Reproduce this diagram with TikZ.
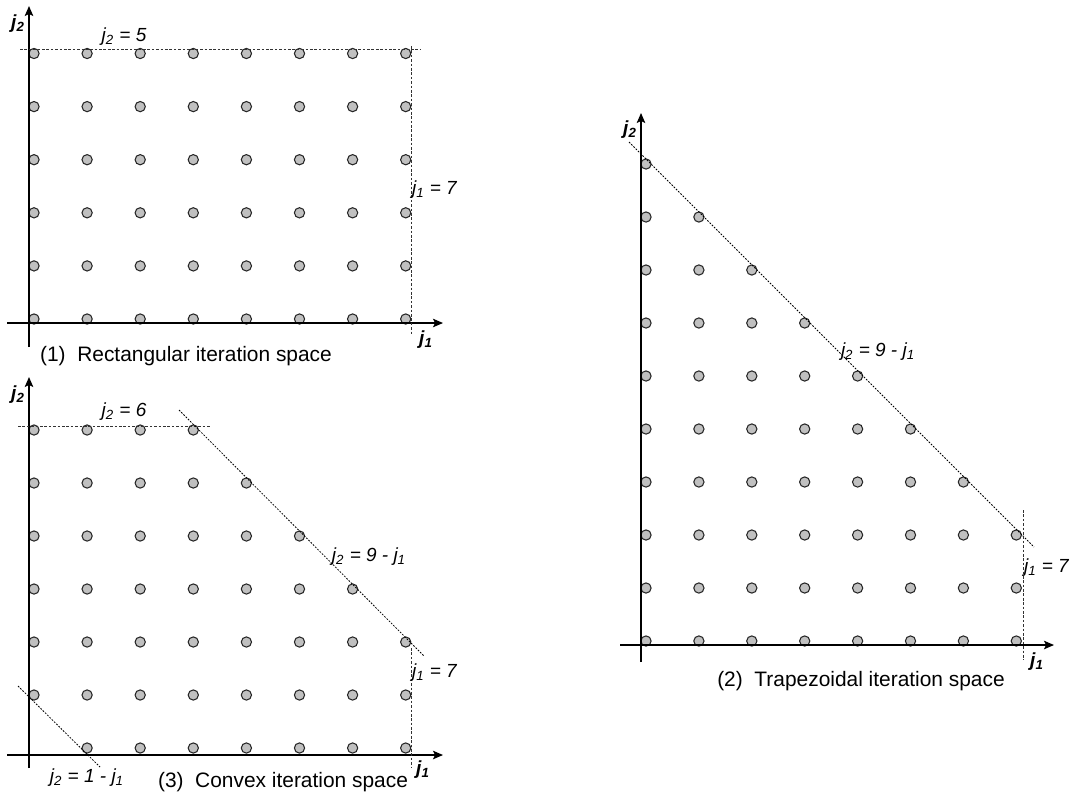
\documentclass[tikz,border=0pt]{standalone}
\usepackage{fontspec}
\setmainfont{Liberation Sans}
\usetikzlibrary{arrows.meta}
\definecolor{dotgray}{RGB}{192,192,192}

\begin{document}
\begin{tikzpicture}[x=0.2mm, y=-0.2mm,
    pt/.style={circle, draw=black!85, fill=dotgray, line width=0.6pt, minimum size=2.05mm, inner sep=0pt},
    axis/.style={-{Stealth[length=2mm, width=1.7mm, inset=0.4mm]}, line width=0.75pt},
    bound/.style={draw=black!80, line width=0.5pt, dash pattern=on 1.5pt off 1pt},
    diag/.style={line width=0.45pt, dash pattern=on 1pt off 0.8pt},
    eq/.style={font=\fontsize{10.8}{12}\selectfont\itshape, inner sep=1pt},
    axlab/.style={font=\fontsize{10.8}{12}\selectfont\bfseries\itshape, inner sep=1pt},
    captext/.style={font=\fontsize{11.9}{14}\selectfont}
]
    \useasboundingbox (0,0) rectangle (1074,800);

    % (1) rectangular space
    \foreach \i in {0,...,7}
      \foreach \j in {0,...,5}
        \node[pt] (a\i\j) at ({34+53.1*\i},{319-53.1*\j}) {};
    \draw[axis] (29,347) -- (29,6);
    \draw[axis] (7,323) -- (443,323);
    \draw[bound] (20,49) -- (421,49);
    \draw[bound] (411,46) -- (411,335);
    \node[eq] (a-top) at (124,37) {j\textsubscript{2} = 5};
    \node[eq, anchor=west] (a-right) at (410,190) {j\textsubscript{1} = 7};
    \node[axlab] (a-x) at (426,340) {j\textsubscript{1}};
    \node[axlab] (a-y) at (18,24) {j\textsubscript{2}};
    \node[captext] (a-cap) at (186,356) {(1)\ \ Rectangular iteration space};

    % (2) trapezoidal space
    \foreach \i in {0,...,7}
      \foreach \j in {0,...,9} {
        \pgfmathtruncatemacro\s{\i+\j}
        \ifnum\s<10 \node[pt] (b\i\j) at ({646+52.9*\i},{641-53*\j}) {}; \fi
      }
    \draw[axis] (641,662) -- (641,113);
    \draw[axis] (620,645) -- (1054,645);
    \draw[diag] (629,142) -- (1034,547);
    \draw[bound] (1023,510) -- (1023,660);
    \node[eq] (b-diag) at (878,352) {j\textsubscript{2} = 9 - j\textsubscript{1}};
    \node[eq, anchor=west] (b-right) at (1022,568) {j\textsubscript{1} = 7};
    \node[axlab] (b-x) at (1037,662) {j\textsubscript{1}};
    \node[axlab] (b-y) at (630,130) {j\textsubscript{2}};
    \node[captext] (b-cap) at (861,681) {(2)\ \ Trapezoidal iteration space};

    % (3) convex space
    \foreach \i in {0,...,7}
      \foreach \j in {0,...,6} {
        \pgfmathtruncatemacro\s{\i+\j}
        \ifnum\s>0 \ifnum\s<10 \node[pt] (c\i\j) at ({34+53.1*\i},{748-53*\j}) {}; \fi\fi
      }
    \draw[axis] (29,768) -- (29,377);
    \draw[axis] (7,755) -- (443,755);
    \draw[bound] (18,426) -- (210,426);
    \draw[diag] (179,410) -- (424,656);
    \draw[diag] (18,686) -- (100,767);
    \draw[bound] (411,648) -- (411,768);
    \node[eq] (c-top) at (124,412) {j\textsubscript{2} = 6};
    \node[eq] (c-diag) at (369,557) {j\textsubscript{2} = 9 - j\textsubscript{1}};
    \node[eq, anchor=west] (c-right) at (410,673) {j\textsubscript{1} = 7};
    \node[eq] (c-low) at (87,778) {j\textsubscript{2} = 1 - j\textsubscript{1}};
    \node[axlab] (c-x) at (423,770) {j\textsubscript{1}};
    \node[axlab] (c-y) at (18,395) {j\textsubscript{2}};
    \node[captext] (c-cap) at (283,782) {(3)\ \ Convex iteration space};
\end{tikzpicture}
\end{document}
